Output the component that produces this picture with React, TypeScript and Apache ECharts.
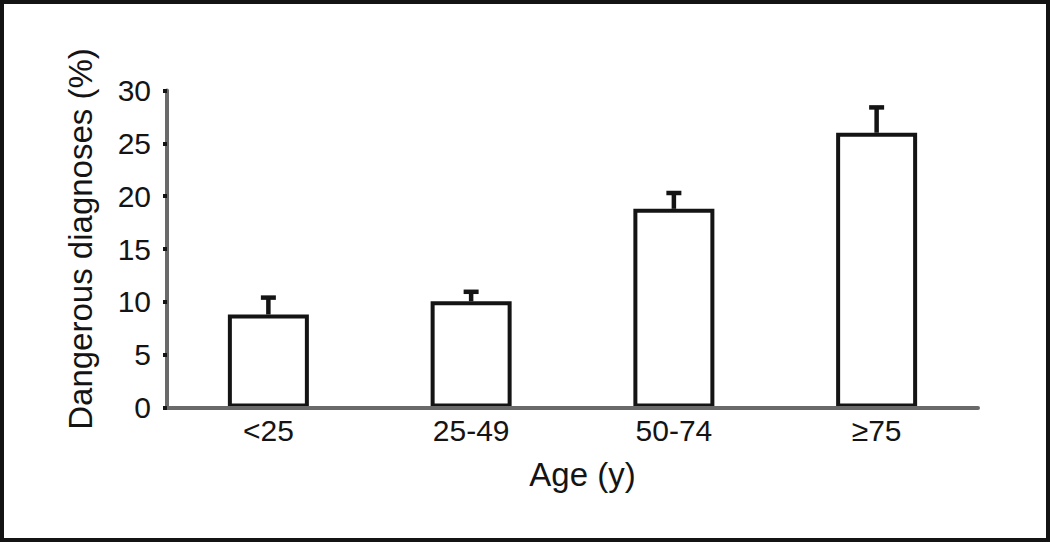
import React, { useEffect, useRef } from "react";
import * as echarts from "echarts";

const categories = ["<25", "25-49", "50-74", "≥75"];
const means = [8.8, 10.05, 18.8, 26.0];
const errors = [1.6, 0.9, 1.5, 2.4];
const yMin = 0;
const yMax = 30;
const yInterval = 5;

const FONT = "'Liberation Sans', Arial, sans-serif";
const INK = "#141414";
const AXIS_GRAY = "#6a6a6a";

export default function App() {
  const ref = useRef<HTMLDivElement>(null);

  useEffect(() => {
    if (!ref.current) return;
    const chart = echarts.init(ref.current, undefined, { renderer: "svg" });
    const errData = categories.map((c, i) => [i, means[i], means[i] + errors[i]]);
    chart.setOption({
      animation: false,
      backgroundColor: "#ffffff",
      graphic: [
        {
          type: "rect",
          shape: { x: 2, y: 2, width: 1046, height: 538 },
          style: { fill: "none", stroke: INK, lineWidth: 4 },
          z: 100,
        },
      ],
      grid: { left: 167, right: 72, top: 90.5, bottom: 134.5 },
      xAxis: {
        type: "category",
        data: categories,
        z: 3,
        axisLine: { show: true, lineStyle: { color: AXIS_GRAY, width: 4 } },
        axisTick: { show: false },
        axisLabel: {
          color: INK,
          fontFamily: FONT,
          fontSize: 30,
          margin: 8,
        },
        name: "Age (y)",
        nameLocation: "middle",
        nameGap: 50,
        nameTextStyle: {
          color: INK,
          fontFamily: FONT,
          fontSize: 33,
          padding: [0, 0, 0, 20],
        },
      },
      yAxis: {
        type: "value",
        min: yMin,
        max: yMax,
        interval: yInterval,
        z: 3,
        splitLine: { show: false },
        axisLine: { show: true, lineStyle: { color: AXIS_GRAY, width: 4 } },
        axisTick: { show: true, length: 4, lineStyle: { color: INK, width: 4 } },
        axisLabel: {
          color: INK,
          fontFamily: FONT,
          fontSize: 30,
          margin: 16,
        },
        name: "Dangerous diagnoses (%)",
        nameLocation: "middle",
        nameGap: 70,
        nameTextStyle: {
          color: INK,
          fontFamily: FONT,
          fontSize: 33,
          padding: [0, 0, 0, 20],
        },
      },
      series: [
        {
          type: "bar",
          data: means,
          barWidth: 81,
          itemStyle: { color: "#ffffff", borderColor: INK, borderWidth: 4 },
          z: 2,
        },
        {
          type: "custom",
          data: errData,
          z: 4,
          renderItem: (params: any, api: any) => {
            const top = api.coord([api.value(0), api.value(1)]);
            const high = api.coord([api.value(0), api.value(2)]);
            return {
              type: "group",
              children: [
                {
                  type: "line",
                  shape: { x1: top[0], y1: top[1], x2: high[0], y2: high[1] },
                  style: { stroke: INK, lineWidth: 4.5 },
                },
                {
                  type: "line",
                  shape: { x1: high[0] - 7.5, y1: high[1], x2: high[0] + 7.5, y2: high[1] },
                  style: { stroke: INK, lineWidth: 4.5 },
                },
              ],
            };
          },
        },
      ],
    });
    return () => chart.dispose();
  }, []);

  return (
    <div
      ref={ref}
      style={{ position: "absolute", left: 0, top: 0, width: 1050, height: 542 }}
    />
  );
}
